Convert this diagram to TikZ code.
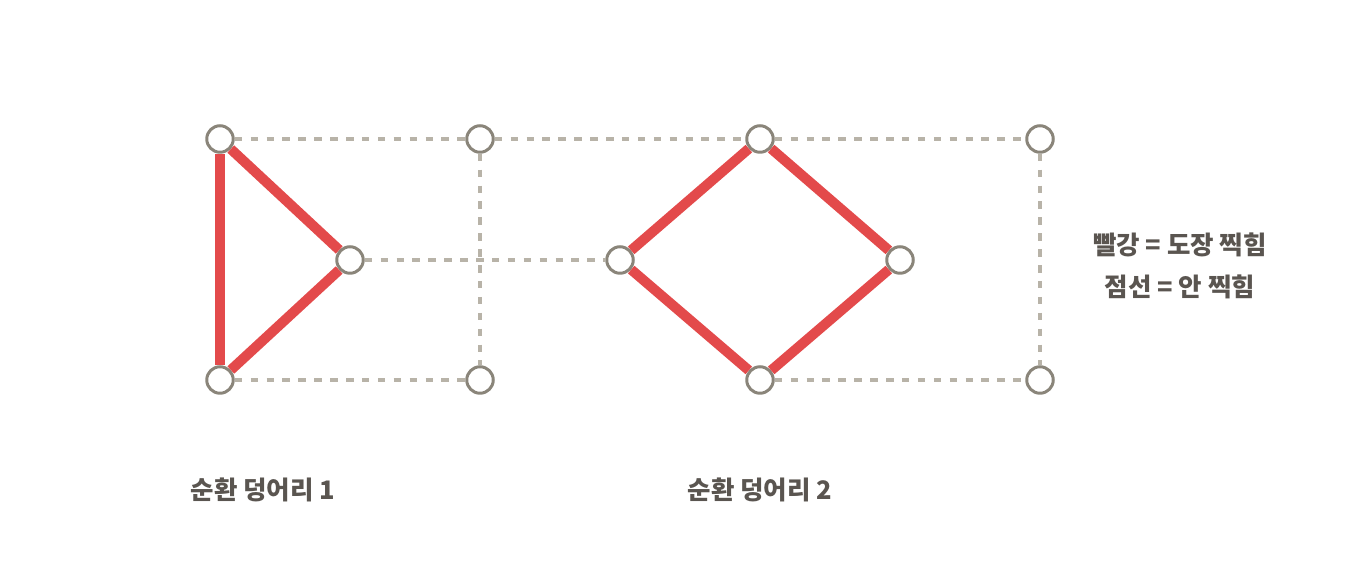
\documentclass[tikz,border=0pt]{standalone}
\usepackage{fontspec}
\setmainfont{Noto Sans CJK KR}
\usetikzlibrary{positioning}
\definecolor{StampRed}{HTML}{E34A4B}
\definecolor{DotGray}{HTML}{B8B3A8}
\definecolor{NodeGray}{HTML}{8A857A}
\definecolor{TextGray}{HTML}{5A5550}

\begin{document}
\begin{tikzpicture}[x=0.02cm, y=-0.02cm,
            vertex/.style={circle, draw=NodeGray, fill=white, line width=1.7pt, minimum size=0.53cm, inner sep=0pt},
            unstamped/.style={DotGray, line width=1.9pt, dash pattern=on 4.25pt off 4.8pt},
            stamped/.style={StampRed, line width=5.7pt},
            label/.style={TextGray, font=\fontsize{14.5}{24}\selectfont\bfseries, align=center}
        ]
            \useasboundingbox (0,0) rectangle (1360,580);

            % Vertices
            \node[vertex] (a1) at (220,139) {};
            \node[vertex] (a2) at (480,139) {};
            \node[vertex] (a3) at (760,139) {};
            \node[vertex] (a4) at (1040,139) {};
            \node[vertex] (b1) at (350,260) {};
            \node[vertex] (b2) at (620,260) {};
            \node[vertex] (b3) at (900,260) {};
            \node[vertex] (c1) at (220,380) {};
            \node[vertex] (c2) at (480,380) {};
            \node[vertex] (c3) at (760,380) {};
            \node[vertex] (c4) at (1040,380) {};

            % Dashed edges
            \draw[unstamped] (a1) -- (a2);
            \draw[unstamped] (a2) -- (a3);
            \draw[unstamped] (a3) -- (a4);
            \draw[unstamped] (a2) -- (c2);
            \draw[unstamped] (a4) -- (c4);
            \draw[unstamped] (b1) -- (b2);
            \draw[unstamped] (c1) -- (c2);
            \draw[unstamped] (c3) -- (c4);

            % Red edges
            \draw[stamped] (a1) -- (b1);
            \draw[stamped] (b1) -- (c1);
            \draw[stamped] (c1) -- (a1);
            \draw[stamped] (a3) -- (b3);
            \draw[stamped] (b3) -- (c3);
            \draw[stamped] (c3) -- (b2);
            \draw[stamped] (b2) -- (a3);

            % Labels
            \node[label] (cycle1) at (263,490) {순환 덩어리 1};
            \node[label] (cycle2) at (760,490) {순환 덩어리 2};
            \node[label] (legend) at (1180,266) {빨강 = 도장 찍힘\\점선 = 안 찍힘};
        \end{tikzpicture}
\end{document}
